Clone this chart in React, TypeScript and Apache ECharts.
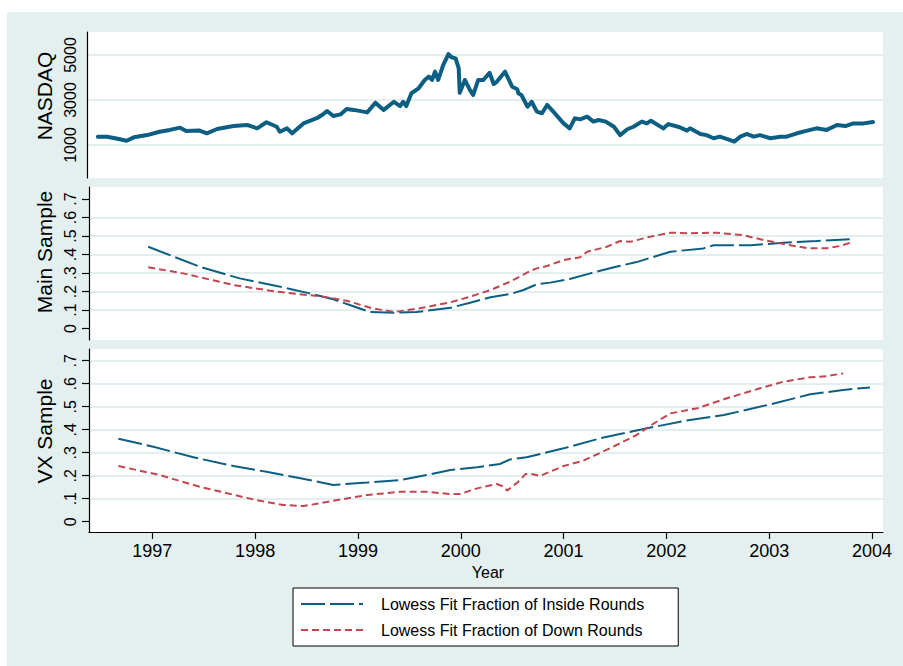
import React, { useEffect, useRef } from 'react';
import * as echarts from 'echarts';

// ---------- data ----------
const nasdaqYears = [
  1996.47, 1996.56, 1996.65, 1996.75, 1996.82, 1996.95, 1997.07, 1997.17, 1997.27, 1997.33,
  1997.46, 1997.53, 1997.63, 1997.79, 1997.92, 1998.02, 1998.11, 1998.21, 1998.24, 1998.31,
  1998.36, 1998.47, 1998.60, 1998.65, 1998.70, 1998.76, 1998.83, 1998.89, 1998.96, 1999.09,
  1999.17, 1999.25, 1999.35, 1999.41, 1999.44, 1999.47, 1999.52, 1999.59, 1999.65, 1999.69,
  1999.72, 1999.75, 1999.78, 1999.83, 1999.88, 1999.91, 1999.95, 1999.98, 1999.99, 2000.04,
  2000.09, 2000.12, 2000.17, 2000.22, 2000.28, 2000.32, 2000.35, 2000.43, 2000.50, 2000.55,
  2000.56, 2000.59, 2000.65, 2000.69, 2000.74, 2000.79, 2000.84, 2000.90, 2001.00, 2001.06,
  2001.11, 2001.16, 2001.23, 2001.29, 2001.34, 2001.41, 2001.49, 2001.55, 2001.62, 2001.68,
  2001.76, 2001.81, 2001.85, 2001.97, 2002.02, 2002.13, 2002.20, 2002.23, 2002.33, 2002.39,
  2002.46, 2002.52, 2002.60, 2002.66, 2002.72, 2002.78, 2002.85, 2002.91, 2003.01, 2003.11,
  2003.17, 2003.27, 2003.37, 2003.46, 2003.56, 2003.66, 2003.74, 2003.82, 2003.92, 2004.01,
];
const nasdaqValues = [
  1370, 1370, 1290, 1190, 1340, 1440, 1590, 1670, 1770, 1620,
  1640, 1520, 1710, 1840, 1890, 1740, 2010, 1810, 1590, 1740,
  1520, 1960, 2190, 2330, 2510, 2290, 2360, 2600, 2560, 2450,
  2880, 2560, 2920, 2730, 2920, 2730, 3300, 3520, 3890, 4040,
  3890, 4260, 3890, 4560, 5040, 4900, 4850, 4410, 3320, 3890,
  3440, 3220, 3890, 3890, 4210, 3710, 3810, 4260, 3590, 3480,
  3300, 3220, 2700, 2920, 2480, 2410, 2780, 2480, 1960, 1740,
  2190, 2140, 2260, 2040, 2110, 2040, 1810, 1440, 1700, 1810,
  2040, 1960, 2080, 1740, 1930, 1790, 1640, 1740, 1490, 1440,
  1300, 1370, 1250, 1150, 1370, 1490, 1370, 1440, 1300, 1370,
  1370, 1520, 1640, 1740, 1670, 1890, 1840, 1960, 1960, 2020,
];

const mainInsideYears = [
  1996.96, 1997.46, 1997.85, 1998.21, 1998.53, 1998.76, 1998.92, 1999.12, 1999.35, 1999.57,
  1999.90, 2000.09, 2000.29, 2000.48, 2000.61, 2000.74, 2000.87, 2001.06, 2001.26, 2001.49,
  2001.71, 2001.88, 2002.04, 2002.36, 2002.46, 2002.82, 2003.14, 2003.46, 2003.82,
];
const mainInside = [
  0.442, 0.334, 0.271, 0.230, 0.190, 0.158, 0.127, 0.089, 0.085, 0.089,
  0.112, 0.139, 0.169, 0.186, 0.208, 0.239, 0.248, 0.268, 0.298, 0.331,
  0.359, 0.388, 0.415, 0.433, 0.450, 0.450, 0.464, 0.473, 0.484,
];
const mainDownYears = [
  1996.96, 1997.30, 1997.79, 1998.21, 1998.66, 1998.89, 1999.12, 1999.35, 1999.60, 1999.90,
  2000.09, 2000.29, 2000.48, 2000.68, 2000.74, 2000.84, 2001.00, 2001.16, 2001.23, 2001.42,
  2001.55, 2001.65, 2001.84, 2002.04, 2002.23, 2002.49, 2002.75, 2002.95, 2003.14, 2003.37,
  2003.56, 2003.69, 2003.82,
];
const mainDown = [
  0.331, 0.298, 0.235, 0.199, 0.172, 0.150, 0.112, 0.089, 0.109, 0.142,
  0.172, 0.208, 0.253, 0.312, 0.325, 0.338, 0.370, 0.385, 0.415, 0.442,
  0.473, 0.469, 0.496, 0.518, 0.515, 0.518, 0.504, 0.478, 0.457, 0.434,
  0.434, 0.446, 0.469,
];

const vxInsideYears = [
  1996.67, 1997.01, 1997.40, 1997.79, 1998.11, 1998.44, 1998.76, 1999.09, 1999.41, 1999.67,
  1999.90, 2000.16, 2000.38, 2000.48, 2000.64, 2001.00, 2001.36, 2001.81, 2002.17, 2002.56,
  2002.98, 2003.40, 2003.72, 2003.98,
];
const vxInside = [
  0.361, 0.326, 0.280, 0.242, 0.217, 0.189, 0.160, 0.170, 0.181, 0.203,
  0.225, 0.237, 0.251, 0.271, 0.280, 0.319, 0.363, 0.406, 0.438, 0.464,
  0.507, 0.554, 0.573, 0.584,
];
const vxDownYears = [
  1996.67, 1997.07, 1997.46, 1997.98, 1998.27, 1998.47, 1998.76, 1999.09, 1999.41, 1999.67,
  1999.90, 1999.99, 2000.16, 2000.35, 2000.42, 2000.45, 2000.55, 2000.63, 2000.69, 2000.77,
  2001.00, 2001.19, 2001.45, 2001.71, 2001.88, 2002.04, 2002.30, 2002.59, 2002.91, 2003.14,
  2003.40, 2003.56, 2003.72,
];
const vxDown = [
  0.242, 0.203, 0.152, 0.097, 0.073, 0.068, 0.091, 0.116, 0.130, 0.130,
  0.120, 0.120, 0.145, 0.164, 0.152, 0.135, 0.170, 0.207, 0.207, 0.199,
  0.242, 0.265, 0.319, 0.377, 0.428, 0.471, 0.493, 0.537, 0.580, 0.609,
  0.628, 0.633, 0.645,
];

const yearTicks = [1997, 1998, 1999, 2000, 2001, 2002, 2003, 2004];
const nasdaqTicks = [1000, 3000, 5000];
const fracTicks = [0, 0.1, 0.2, 0.3, 0.4, 0.5, 0.6, 0.7];
const seriesNames = ['Lowess Fit Fraction of Inside Rounds', 'Lowess Fit Fraction of Down Rounds'];
const panelTitles = ['NASDAQ', 'Main Sample', 'VX Sample'];
const xTitle = 'Year';

// ---------- style ----------
const FONT = '"Liberation Sans", Arial, Helvetica, sans-serif';
const BG = '#e4f0f0';
const GRIDC = '#e2eeef';
const BLUE = '#0c5e82';
const RED = '#c2464f';
const CLEAR = 'rgba(0,0,0,0)';

const zip = (xs: number[], ys: number[]) => xs.map((x, i) => [x, ys[i]]);
const fracFmt = (v: number) => (v === 0 ? '0' : String(Math.round(v * 10) / 10).replace(/^0/, ''));

function yAxisFor(gridIndex: number, min: number, max: number, ticks: number[], fmt: (v: number) => string, showTick: boolean, gridColors: string[], margin: number) {
  return {
    type: 'value',
    gridIndex,
    min,
    max,
    axisLine: { show: true, onZero: false, lineStyle: { color: '#000', width: 1.2 } },
    axisTick: { show: showTick, length: 7, inside: false, customValues: ticks, lineStyle: { color: '#000', width: 1.2 } },
    axisLabel: {
      show: true,
      rotate: 90,
      margin,
      customValues: ticks,
      formatter: (v: number) => fmt(v),
      color: '#000',
      fontSize: 16,
      fontFamily: FONT,
    },
    splitLine: { show: true, lineStyle: { color: gridColors, width: 1.8 } },
  };
}

export default function App() {
  const ref = useRef<HTMLDivElement>(null);
  useEffect(() => {
    if (!ref.current) return;
    const chart = echarts.init(ref.current, undefined, { renderer: 'svg' });
    const xMin = 1996.384;
    const xMax = 2004.107;
    const option: any = {
      animation: false,
      backgroundColor: 'transparent',
      textStyle: { fontFamily: FONT, color: '#000' },
      grid: [
        { left: 87, top: 32, width: 796, height: 146, show: true, backgroundColor: '#fff', borderWidth: 0, containLabel: false, outerBoundsMode: 'none' },
        { left: 89, top: 187, width: 794, height: 153, show: true, backgroundColor: '#fff', borderWidth: 0, containLabel: false, outerBoundsMode: 'none' },
        { left: 89, top: 349, width: 794, height: 183, show: true, backgroundColor: '#fff', borderWidth: 0, containLabel: false, outerBoundsMode: 'none' },
      ],
      xAxis: [
        { type: 'value', gridIndex: 0, min: xMin - 2 / 102.77, max: xMax, show: false },
        { type: 'value', gridIndex: 1, min: xMin, max: xMax, show: false },
        {
          type: 'value',
          gridIndex: 2,
          min: xMin,
          max: xMax,
          axisLine: { show: true, onZero: false, lineStyle: { color: '#000', width: 1.2 } },
          axisTick: { show: true, length: 7, customValues: yearTicks, lineStyle: { color: '#000', width: 1.2 } },
          axisLabel: {
            show: true,
            margin: 10,
            customValues: yearTicks,
            formatter: (v: number) => String(Math.round(v)),
            color: '#000',
            fontSize: 18,
            fontFamily: FONT,
          },
          splitLine: { show: false },
        },
      ],
      yAxis: [
        yAxisFor(0, -467, 6022, nasdaqTicks, (v) => String(Math.round(v)), false, [GRIDC], 9),
        yAxisFor(1, -0.0622, 0.765, fracTicks, fracFmt, true, [CLEAR, GRIDC, GRIDC, GRIDC, GRIDC, GRIDC, GRIDC, CLEAR], 11),
        yAxisFor(2, -0.0448, 0.751, fracTicks, fracFmt, true, [CLEAR, GRIDC, GRIDC, GRIDC, GRIDC, GRIDC, GRIDC, GRIDC], 11),
      ],
      legend: {
        show: true,
        data: seriesNames,
        orient: 'vertical',
        left: 293,
        top: 588,
        padding: [8, 34, 8, 7],
        itemWidth: 62,
        itemHeight: 14,
        itemGap: 10,
        backgroundColor: '#fff',
        borderColor: '#000',
        borderWidth: 1,
        borderRadius: 0,
        itemStyle: { opacity: 0, color: CLEAR, borderWidth: 0 },
        textStyle: { fontSize: 16, fontFamily: FONT, color: '#000', padding: [0, 0, 0, 13] },
        selectedMode: false,
      },
      graphic: [
        { type: 'text', x: 44, y: 96, rotation: Math.PI / 2, style: { text: panelTitles[0], fontSize: 21, fontFamily: FONT, fill: '#000', align: 'center', verticalAlign: 'middle' } },
        { type: 'text', x: 44, y: 252, rotation: Math.PI / 2, style: { text: panelTitles[1], fontSize: 21, fontFamily: FONT, fill: '#000', align: 'center', verticalAlign: 'middle' } },
        { type: 'text', x: 44, y: 431, rotation: Math.PI / 2, style: { text: panelTitles[2], fontSize: 21, fontFamily: FONT, fill: '#000', align: 'center', verticalAlign: 'middle' } },
        { type: 'text', x: 488, y: 572, style: { text: xTitle, fontSize: 16, fontFamily: FONT, fill: '#000', align: 'center', verticalAlign: 'middle' } },
      ],
      series: [
        {
          name: 'NASDAQ',
          type: 'line',
          xAxisIndex: 0,
          yAxisIndex: 0,
          data: zip(nasdaqYears, nasdaqValues),
          symbol: 'none',
          lineStyle: { color: BLUE, width: 4, join: 'round', cap: 'round' },
          itemStyle: { color: BLUE },
        },
        {
          name: seriesNames[0],
          type: 'line',
          xAxisIndex: 1,
          yAxisIndex: 1,
          data: zip(mainInsideYears, mainInside),
          symbol: 'none',
          lineStyle: { color: BLUE, width: 2, type: [24, 5] },
          itemStyle: { color: BLUE },
        },
        {
          name: seriesNames[1],
          type: 'line',
          xAxisIndex: 1,
          yAxisIndex: 1,
          data: zip(mainDownYears, mainDown),
          symbol: 'none',
          lineStyle: { color: RED, width: 2, type: [7, 4] },
          itemStyle: { color: RED },
        },
        {
          name: seriesNames[0],
          type: 'line',
          xAxisIndex: 2,
          yAxisIndex: 2,
          data: zip(vxInsideYears, vxInside),
          symbol: 'none',
          lineStyle: { color: BLUE, width: 2, type: [24, 5] },
          itemStyle: { color: BLUE },
        },
        {
          name: seriesNames[1],
          type: 'line',
          xAxisIndex: 2,
          yAxisIndex: 2,
          data: zip(vxDownYears, vxDown),
          symbol: 'none',
          lineStyle: { color: RED, width: 2, type: [7, 4] },
          itemStyle: { color: RED },
        },
      ],
    };
    chart.setOption(option);
    return () => chart.dispose();
  }, []);

  return (
    <div style={{ position: 'absolute', left: 0, top: 0, width: 903, height: 666, background: '#fff', overflow: 'hidden' }}>
      <div style={{ position: 'absolute', left: 7, top: 12, width: 896, height: 654, background: BG }} />
      <div ref={ref} style={{ position: 'absolute', left: 0, top: 0, width: 903, height: 666 }} />
    </div>
  );
}
